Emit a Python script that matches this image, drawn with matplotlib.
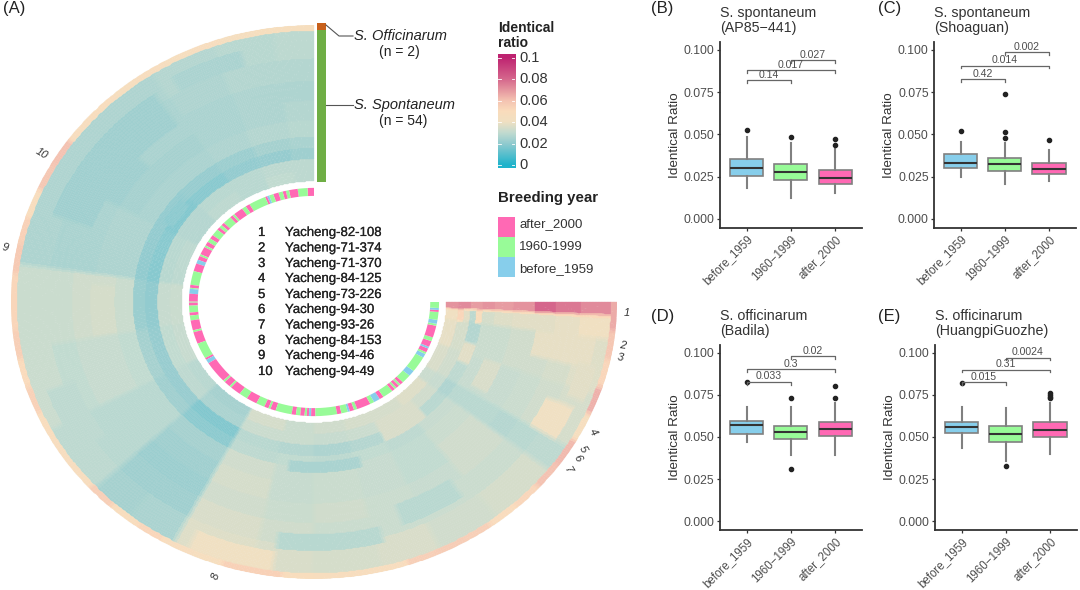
import numpy as np
import matplotlib
matplotlib.use("Agg")
import matplotlib.pyplot as plt
import matplotlib.patheffects as pe
from matplotlib.colors import LinearSegmentedColormap, Normalize
from matplotlib.patches import Rectangle

plt.rcParams['font.family'] = ['Liberation Sans', 'DejaVu Sans']

# ---------- data: circular heat map ----------
sector_edges = [0, 8, 20, 33, 48, 62, 82, 100, 118, 133, 142, 152, 168, 180, 193, 205, 218, 232, 238, 250, 262, 267, 270]
band_rows = [4, 4, 4, 4, 6, 7, 7, 8, 10, 2]   # inner -> outer, 56 rows
heat_bands = [
 [.029,.030,.028,.029,.027,.029,.032,.031,.028,.024,.024,.034,.032,.033,.034,.034,.036,.032,.035,.038,.040,.070],
 [.029,.029,.028,.028,.027,.028,.031,.030,.029,.025,.025,.032,.032,.031,.032,.033,.033,.031,.033,.034,.037,.072],
 [.023,.021,.020,.018,.017,.018,.020,.021,.021,.017,.017,.028,.027,.026,.027,.027,.028,.026,.029,.027,.029,.068],
 [.025,.024,.022,.021,.020,.020,.022,.024,.023,.019,.019,.029,.030,.029,.030,.029,.031,.028,.031,.032,.034,.070],
 [.028,.027,.026,.025,.025,.026,.032,.030,.028,.024,.024,.033,.031,.032,.031,.030,.032,.028,.031,.032,.036,.068],
 [.027,.026,.025,.024,.024,.026,.033,.031,.028,.023,.023,.034,.031,.032,.031,.030,.033,.028,.031,.033,.037,.070],
 [.026,.026,.025,.025,.023,.025,.033,.031,.028,.022,.022,.033,.032,.033,.032,.031,.033,.027,.032,.033,.037,.080],
 [.027,.027,.026,.025,.024,.025,.032,.030,.028,.023,.023,.035,.033,.032,.032,.032,.032,.028,.033,.034,.038,.076],
 [.029,.028,.027,.026,.026,.026,.032,.032,.029,.024,.025,.036,.035,.034,.035,.033,.034,.029,.034,.036,.040,.072],
 [.031,.030,.029,.028,.028,.027,.033,.033,.030,.025,.026,.038,.036,.035,.036,.035,.036,.030,.035,.038,.042,.068],
]
# outermost rows (S. officinarum), one value per 6 degrees of sweep
outer_ring = [.046,.046,.045,.047,.046,.047,.046,.048,.047,.060,.058,.048,.054,.057,.052,.052,.055,.050,.054,.048,.047,.047,.055,.048,
              .052,.047,.046,.054,.054,.048,.047,.047,.047,.055,.056,.055,.049,.052,.060,.062,.046,.064,.052,.058,.065]
# local blocks: start, end of sweep, inner row, outer row, value
heat_blocks = [(238,246,40,50,.040),(255,262,30,50,.038),(35,70,34,48,.023),(172,195,14,18,.025),(172,195,40,46,.028),
               (155,172,47,54,.040),(246,254,8,12,.037),(262,267,4,6,.052),(262,267,10,12,.048),(248,256,46,52,.037),
               (205,222,4,12,.035),(240,250,16,22,.035),(200,215,34,42,.028),(85,100,22,30,.034),(110,125,40,50,.029),
               (15,30,44,50,.025),(50,60,10,14,.019)]

# breeding year per half degree of sweep: (class, count)
year_runs = [('P',6),('G',9),('P',8),('G',3),('P',3),('G',4),('P',5),('G',4),('B',2),('P',2),('G',16),('P',4),('G',4),('P',9),('G',2),('P',3),
 ('G',8),('P',3),('G',3),('P',3),('G',7),('P',4),('G',4),('P',4),('G',2),('P',8),('G',2),('P',4),('B',4),('P',8),('G',14),('P',3),('G',1),('B',5),('P',8),('G',1),('P',3),
 ('G',7),('P',3),('G',5),('P',10),('G',2),('P',12),('G',16),('P',2),('B',4),('P',22),('G',2),('P',6),('G',2),('P',10),('G',8),('P',10),('G',8),('P',4),('G',2),('P',5),
 ('G',15),('P',4),('G',4),('P',4),('G',2),('P',2),('B',2),('P',4),('G',20),('P',4),('G',6),('B',2),('P',4),('G',3),('P',13),('G',4),('B',6),('P',4),('G',10),('P',3),('G',2),('P',3),('G',2),('P',3),
 ('G',9),('B',6),('G',16),('B',4),('G',2),('P',4),('B',2),('P',6),('G',4),('P',12),('G',2),('B',4),('G',8),('P',2),('B',2),('G',6)]
year_order = ['B', 'G', 'P']

heat_stops = [(0.0,'#1FB3CB'),(0.02,'#92CBCF'),(0.03,'#C2DBD0'),(0.04,'#F0E0C2'),(0.05,'#FADCBC'),(0.06,'#F4C2B1'),(0.08,'#D5668C'),(0.1,'#BE2270')]
ticks_heat = [0, 0.02, 0.04, 0.06, 0.08, 0.1]
ticklabels_heat = ['0', '0.02', '0.04', '0.06', '0.08', '0.1']

sample_no = ['1','2','3','4','5','6','7','8','9','10']
sample_names = ['Yacheng-82-108','Yacheng-71-374','Yacheng-71-370','Yacheng-84-125','Yacheng-73-226',
                'Yacheng-94-30','Yacheng-93-26','Yacheng-84-153','Yacheng-94-46','Yacheng-94-49']
# label text, sweep angle, radius, rotation
ring_labels = [('1',267.8,1.032,0),('2',261.3,1.03,-8),('3',258.7,1.03,-10),('4',243,1.032,-60),
               ('5',239,1.035,-60),('6',237,1.035,-60),('7',234,1.033,-60),('8',161.8,1.04,72),('9',79,1.035,-11),('10',59.2,1.043,-31)]

# ---------- data: box plots ----------
groups = ['before_1959', '1960\u22121999', 'after_2000']
box_colors = ['#87CEEB', '#98FB98', '#FF69B4']
panels = {
 'B': dict(title='S. spontaneum\n(AP85\u2212441)',
   q1=[.0251,.0227,.0206], med=[.030,.0275,.0239], q3=[.0354,.0322,.0289], lo=[.0184,.012,.015], hi=[.0482,.045,.0413],
   fl=[[.0524],[.0486],[.0472,.0437]], br=[.082,.088,.094], pv=['0.14','0.017','0.027']),
 'C': dict(title='S. spontaneum\n(Shoaguan)',
   q1=[.0298,.0281,.0263], med=[.0328,.0322,.0294], q3=[.0383,.0358,.0332], lo=[.0249,.0204,.0223], hi=[.0457,.0447,.0407],
   fl=[[.0518],[.0476,.0514,.0741],[.0464]], br=[.0826,.0907,.0988], pv=['0.42','0.014','0.002']),
 'D': dict(title='S. officinarum\n(Badila)',
   q1=[.052,.0486,.0508], med=[.0569,.0528,.0547], q3=[.0595,.0567,.0591], lo=[.0472,.0391,.0391], hi=[.0676,.0676,.0704],
   fl=[[.0826],[.0733,.031],[.0733,.0802]], br=[.0828,.0903,.098], pv=['0.033','0.3','0.02']),
 'E': dict(title='S. officinarum\n(HuangpiGuozhe)',
   q1=[.0524,.0468,.0502], med=[.0559,.0516,.0542], q3=[.0591,.0565,.0591], lo=[.0437,.036,.0397], hi=[.068,.0674,.0704],
   fl=[[.0822],[.0328],[.0759,.0749,.0739,.0729]], br=[.0826,.0901,.0972], pv=['0.015','0.31','0.0024']),
}
bracket_pairs = [(1, 2), (1, 3), (2, 3)]

W, H = 1080, 590
fig = plt.figure(figsize=(W/100, H/100), dpi=100, facecolor='white')

def px_axes(x0, y0, x1, y1, **kw):
    return fig.add_axes([x0/W, 1-y1/H, (x1-x0)/W, (y1-y0)/H], **kw)

# ---------- heat map ----------
cmap = LinearSegmentedColormap.from_list('ident', [(v/0.1, c) for v, c in heat_stops])
norm = Normalize(0, 0.1)

pol = px_axes(314-303.5, 302-277, 314+303.5, 302+277, projection='polar')
pol.set_aspect('auto')
pol.set_theta_zero_location('N')
pol.set_theta_direction(1)
pol.set_ylim(0, 1)
pol.set_axis_off()

R_IN, R_OUT = 0.436, 1.0
phi_fine = np.arange(0, 270.25, 0.5)
phi_mid = phi_fine[:-1] + 0.25
sec_idx = np.clip(np.searchsorted(sector_edges, phi_mid) - 1, 0, len(sector_edges) - 2)
row_band = np.repeat(np.arange(len(heat_bands)), band_rows[:len(heat_bands)])
M = np.array(heat_bands)[row_band][:, sec_idx]
n_rows = len(row_band)
for a, b, r0, r1, v in heat_blocks:
    if r0 < n_rows:
        M[r0:min(r1, n_rows), (phi_mid >= a) & (phi_mid < b)] = v
ring_row = np.array(outer_ring)[np.minimum((phi_mid // 6).astype(int), len(outer_ring) - 1)]
M[-2:, :] = ring_row

# soften block borders slightly, as in the blurred reference
def soften(A, axis, k):
    pad = [(0, 0), (0, 0)]; pad[axis] = (k // 2, k // 2)
    P = np.pad(A, pad, mode='edge')
    return np.apply_along_axis(lambda c: np.convolve(c, np.ones(k) / k, mode='valid'), axis, P)
M = soften(M, 1, 3)

r_edges = np.linspace(R_IN, R_OUT, n_rows + 1)
pol.pcolormesh(np.deg2rad(phi_fine), r_edges, M, cmap=cmap, norm=norm, shading='flat',
               antialiased=True, edgecolors='face', linewidth=0.25)

# breeding-year ring
unit = 270 / sum(n for _, n in year_runs)
start = 0
for c, n in year_runs:
    pol.bar(np.deg2rad((start + n / 2) * unit), 0.412 - 0.383, width=np.deg2rad(n * unit), bottom=0.383,
            color=box_colors[year_order.index(c)], linewidth=0)
    start += n

for txt, phi, r, rot in ring_labels:
    pol.text(np.deg2rad(phi), r, txt, fontsize=8, style='italic', color='#333333', rotation=rot,
             ha='center', va='center', clip_on=False)
pol.set_ylim(0, 1)

# ---------- overlay in pixel coordinates ----------
ov = fig.add_axes([0, 0, 1, 1], facecolor='none')
ov.set_xlim(0, W); ov.set_ylim(H, 0); ov.axis('off')
ov.add_patch(Rectangle((317, 23), 9, 7, color='#C8601A', lw=0))
ov.add_patch(Rectangle((317, 30), 9, 152, color='#6FAE45', lw=0))
ov.plot([326, 339, 353], [25, 36, 36], color='#555555', lw=0.8)
ov.plot([326, 353], [105, 105], color='#555555', lw=0.8)
ov.text(354, 36, 'S. Officinarum', fontsize=10.5, style='italic', color='#222222', va='center')
ov.text(379, 52, '(n = 2)', fontsize=10, color='#222222', va='center')
ov.text(354, 105, 'S. Spontaneum', fontsize=10.5, style='italic', color='#222222', va='center')
ov.text(379, 121, '(n = 54)', fontsize=10, color='#222222', va='center')

ys = [233, 248.5, 264, 279, 295, 310, 325.5, 341, 356, 372]
med = [pe.withStroke(linewidth=0.15, foreground='#222222')]
for y, n, s in zip(ys, sample_no, sample_names):
    ov.text(258, y, n, fontsize=9.5, color='#222222', va='center', path_effects=med)
    ov.text(285, y, s, fontsize=9.5, color='#222222', va='center', path_effects=med)

for lab, x, y in [('(A)', 3, 9), ('(B)', 651, 9), ('(C)', 878, 9), ('(D)', 651, 317), ('(E)', 878, 317)]:
    ov.text(x, y, lab, fontsize=12, color='#222222', va='center')

# legends
ov.text(498, 28, 'Identical', fontsize=10, fontweight='bold', color='#222222', va='center')
ov.text(498, 43, 'ratio', fontsize=10, fontweight='bold', color='#222222', va='center')
cax = px_axes(497.5, 54, 515, 168)
grad = np.linspace(0, 0.1, 256)[:, None]
cax.imshow(grad, origin='lower', aspect='auto', cmap=cmap, norm=norm, extent=[0, 1, 0, 0.1])
cax.imshow(grad[:1], origin='lower', aspect='auto', cmap=cmap, norm=norm, extent=[0, 1, -0.0028, 0])
cax.imshow(grad[-1:], origin='lower', aspect='auto', cmap=cmap, norm=norm, extent=[0, 1, 0.1, 0.1037])
cax.set_xlim(0, 1); cax.set_ylim(-0.0028, 0.1037)
cax.axis('off')
for t, l in zip(ticks_heat, ticklabels_heat):
    cax.plot([0, 0.2], [t, t], color='white', lw=0.6)
    cax.plot([0.8, 1], [t, t], color='white', lw=0.6)
    cax.annotate(l, (1, t), xytext=(4, 0), textcoords='offset pixels', fontsize=10.5, color='#333333', va='center', annotation_clip=False)

ov.text(498, 198, 'Breeding year', fontsize=10.8, fontweight='bold', color='#222222', va='center')
year_labels = ['after_2000', '1960-1999', 'before_1959']
for y, ly, c, l in zip([217, 237, 257], [224, 247, 269.5], box_colors[::-1], year_labels):
    ov.add_patch(Rectangle((498, y), 17, 20, color=c, lw=0))
    ov.text(519, ly, l, fontsize=9.5, color='#333333', va='center')

# ---------- box plots ----------
GR = '#4D4D4D'
rects = {'B': (720, 42, 861.7, 227.7), 'C': (934.3, 42, 1075.5, 227.7),
         'D': (720, 345, 861.7, 530), 'E': (935, 345, 1076.5, 530)}
for key, p in panels.items():
    x0, y0, x1, y1 = rects[key]
    ax = px_axes(x0, y0, x1, y1)
    stats = [dict(q1=p['q1'][i], med=p['med'][i], q3=p['q3'][i], whislo=p['lo'][i], whishi=p['hi'][i], fliers=p['fl'][i]) for i in range(3)]
    bp = ax.bxp(stats, positions=[1, 2, 3], widths=0.75, patch_artist=True, showcaps=False,
                medianprops=dict(color='#333333', lw=1.5),
                whiskerprops=dict(color='#808080', lw=1.5),
                boxprops=dict(edgecolor='#808080', lw=1.2),
                flierprops=dict(marker='o', markerfacecolor='#222222', markeredgecolor='#222222', markersize=3))
    for b, c in zip(bp['boxes'], box_colors):
        b.set_facecolor(c)
    ax.set_xlim(0.4, 3.6)
    ax.set_ylim(-0.0053, 0.1047)
    ax.set_yticks([0, .025, .05, .075, .1])
    ax.set_yticklabels(['0.000', '0.025', '0.050', '0.075', '0.100'], fontsize=8.7, color=GR)
    ax.set_xticks([1, 2, 3])
    ax.set_xticklabels(groups, fontsize=8.3, color=GR, rotation=45, ha='right', rotation_mode='anchor')
    ax.set_ylabel('Identical Ratio', fontsize=9.7, color='#333333', labelpad=2)
    ax.tick_params(length=2.5, width=0.9, color='#333333', pad=1.5)
    for s in ['top', 'right']:
        ax.spines[s].set_visible(False)
    for s in ['left', 'bottom']:
        ax.spines[s].set_color('#333333'); ax.spines[s].set_linewidth(1.3)
    for (a, b), y, lab in zip(bracket_pairs, p['br'], p['pv']):
        ax.plot([a, a, b, b], [y - 0.0016, y, y, y - 0.0016], color='#666666', lw=0.9)
        ax.text((a + b) / 2, y + 0.0002, lab, fontsize=7.6, color=GR, ha='center', va='bottom')
    line1, line2 = p['title'].split('\n')
    ov.text(x0, y0 - 29, line1, fontsize=10.3, color='#333333', va='center')
    ov.text(x0, y0 - 14, line2, fontsize=10.3, color='#333333', va='center')

fig.savefig('out.png', dpi=100)
